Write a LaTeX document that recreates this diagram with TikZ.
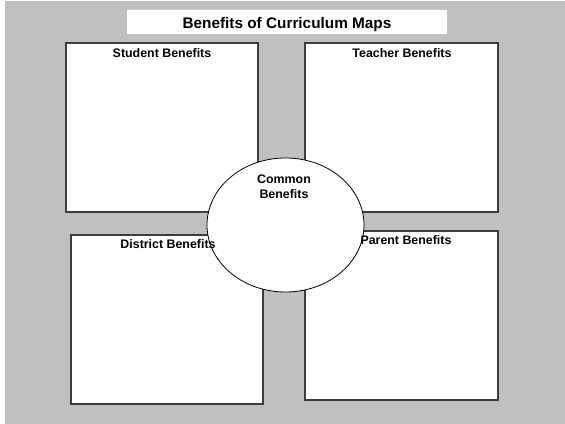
\documentclass[tikz,border=0pt]{standalone}
\usepackage{fontspec}
\setmainfont{Liberation Sans}
\definecolor{backgray}{RGB}{192,192,192}
\definecolor{edgegray}{RGB}{60,60,60}
\tikzset{
  panel/.style={draw=edgegray, fill=white, line width=0.9},
  heading/.style={inner sep=0.75pt, font=\bfseries\fontsize{9.3}{11.25}\selectfont},
}
\begin{document}
\begin{tikzpicture}[x=0.75pt,y=0.75pt,yscale=-1,xscale=1]
        \useasboundingbox (0,0) rectangle (565,424);

        %Background
        \fill[backgray] (5,1) rectangle (565,424);
        %Title strip
        \fill[white] (127,10) rectangle (447,34);

        %Shape: Rectangle [student]
        \draw[panel] (66,43) rectangle (258,212);
        %Shape: Rectangle [teacher]
        \draw[panel] (305,43) rectangle (498,212);
        %Shape: Rectangle [district]
        \draw[panel] (71,235) rectangle (263,404);
        %Shape: Rectangle [parent]
        \draw[panel] (305,231) rectangle (498,400);
        %Shape: Ellipse [common]
        \draw[fill=white, line width=0.6] (285.5,225) ellipse [x radius=78.5, y radius=67];

        % Text Node
        \node (title) [anchor=base, inner sep=0.75pt, font=\bfseries\fontsize{11.5}{14}\selectfont] at (287,29) {Benefits of Curriculum Maps};
        \node (student) [anchor=base, heading] at (162,58) {Student Benefits};
        \node (teacher) [anchor=base, heading] at (402,58) {Teacher Benefits};
        \node (district) [anchor=base, heading] at (168,249) {District Benefits};
        \node (parent) [anchor=base, heading] at (406,245) {Parent Benefits};
        \node (common) [heading, align=center] at (284,187) {Common\\Benefits};
\end{tikzpicture}
\end{document}
